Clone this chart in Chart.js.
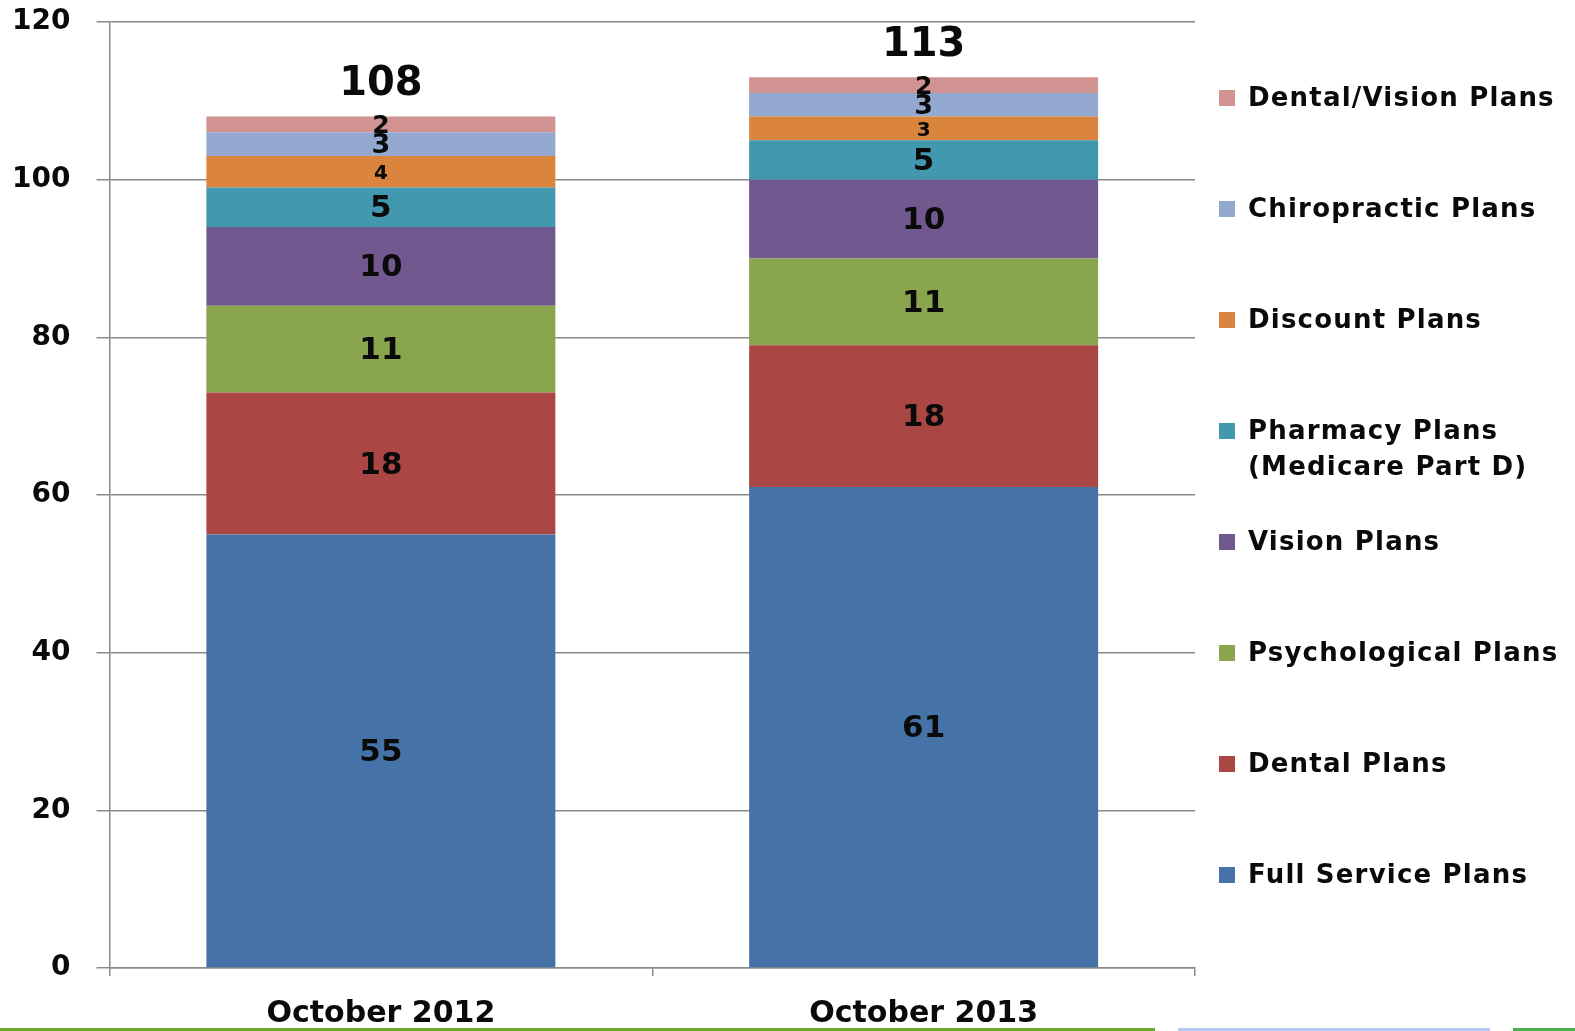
<!DOCTYPE html>
<html>
<head>
<meta charset="utf-8">
<script src="https://cdn.jsdelivr.net/npm/chart.js@4"></script>
<style>
    body { margin: 0; background: #fff; }
    #wrap { position: relative; width: 1575px; height: 1031px; overflow: hidden; }
    .strip { position: absolute; height: 3px; top: 1028px; }
</style>
</head>
<body>
<div id="wrap">
    <canvas id="plansChart" width="1575" height="1031"></canvas>
    <div class="strip" style="left:0;width:1155px;background:#6aab2e"></div>
    <div class="strip" style="left:1178px;width:312px;background:#b3c8ef"></div>
    <div class="strip" style="left:1513px;width:62px;background:#4caf50"></div>
</div>
<script>
// =========================
// DATA
// =========================
const months = ['October 2012', 'October 2013'];

const fullService  = [55, 61];
const dental       = [18, 18];
const psychological = [11, 11];
const vision       = [10, 10];
const pharmacy     = [5, 5];
const discount     = [4, 3];
const chiropractic = [3, 3];
const dentalVision = [2, 2];

const totals = [108, 113];

const yTicks = [0, 20, 40, 60, 80, 100, 120];

const seriesNames = [
    'Full Service Plans',
    'Dental Plans',
    'Psychological Plans',
    'Vision Plans',
    ['Pharmacy Plans', '(Medicare Part D)'],
    'Discount Plans',
    'Chiropractic Plans',
    'Dental/Vision Plans'
];
const seriesValues = [fullService, dental, psychological, vision, pharmacy, discount, chiropractic, dentalVision];
const seriesColors = ['#4572a7', '#aa4643', '#89a54e', '#71588f', '#4198af', '#db843d', '#93a9cf', '#d19392'];
const labelSizes   = [31, 31, 31, 31, 31, 20, 27, 25];

const FONT = '"DejaVu Sans", Verdana, sans-serif';

// =========================
// PLUGINS
// =========================
const segmentLabels = {
    id: 'segmentLabels',
    afterDatasetsDraw(chart) {
        const ctx = chart.ctx;
        ctx.save();
        ctx.fillStyle = '#0a0a0a';
        ctx.textAlign = 'center';
        ctx.textBaseline = 'middle';
        chart.data.datasets.forEach((ds, i) => {
            const meta = chart.getDatasetMeta(i);
            ctx.font = 'bold ' + labelSizes[i] + 'px ' + FONT;
            meta.data.forEach((bar, j) => {
                const p = bar.getCenterPoint();
                ctx.fillText(String(ds.data[j]), p.x, p.y + 2);
            });
        });
        // totals on top
        const top = chart.getDatasetMeta(chart.data.datasets.length - 1);
        ctx.font = 'bold 40px ' + FONT;
        top.data.forEach((bar, j) => {
            ctx.fillText(String(totals[j]), bar.x, bar.y - 32);
        });
        ctx.restore();
    }
};

const sideLegend = {
    id: 'sideLegend',
    afterDraw(chart) {
        const ctx = chart.ctx;
        const x0 = 1219, tx = 1248, y0 = 98, step = 111, box = 16;
        ctx.save();
        ctx.font = 'bold 26px ' + FONT;
        if ('letterSpacing' in ctx) ctx.letterSpacing = '1.2px';
        ctx.textAlign = 'left';
        ctx.textBaseline = 'middle';
        for (let k = 0; k < seriesNames.length; k++) {
            const i = seriesNames.length - 1 - k;
            const y = y0 + k * step;
            ctx.fillStyle = seriesColors[i];
            ctx.fillRect(x0, y - box / 2, box, box);
            ctx.fillStyle = '#0a0a0a';
            const lines = Array.isArray(seriesNames[i]) ? seriesNames[i] : [seriesNames[i]];
            lines.forEach((line, n) => ctx.fillText(line, tx, y + 1 + n * 36));
        }
        ctx.restore();
    }
};

// =========================
// CHART
// =========================
const ctx = document.getElementById('plansChart').getContext('2d');

new Chart(ctx, {
    type: 'bar',
    data: {
        labels: months,
        datasets: seriesValues.map((vals, i) => ({
            label: Array.isArray(seriesNames[i]) ? seriesNames[i].join(' ') : seriesNames[i],
            data: vals,
            backgroundColor: seriesColors[i],
            borderWidth: 0,
            barPercentage: 0.643,
            categoryPercentage: 1
        }))
    },
    options: {
        responsive: false,
        animation: false,
        layout: { padding: { top: 22, right: 380, left: 0, bottom: 0 } },
        plugins: {
            legend: { display: false },
            tooltip: { enabled: false }
        },
        scales: {
            x: {
                stacked: true,
                afterFit: s => { s.height = 63; s.paddingLeft = 0; s.paddingRight = 0; },
                grid: {
                    offset: true,
                    drawOnChartArea: false,
                    tickLength: 8,
                    color: '#8a8a8a',
                    lineWidth: 1.5
                },
                border: { color: '#8a8a8a', width: 1.5 },
                ticks: {
                    color: '#0a0a0a',
                    padding: 20,
                    font: { family: FONT, size: 30, weight: 'bold' }
                }
            },
            y: {
                stacked: true,
                min: 0,
                max: 120,
                afterFit: s => { s.width = 109.5; s.paddingTop = 0; s.paddingBottom = 0; },
                afterBuildTicks: s => { s.ticks = yTicks.map(v => ({ value: v })); },
                grid: {
                    color: '#8a8a8a',
                    lineWidth: 1.5,
                    tickLength: 13
                },
                border: { color: '#8a8a8a', width: 1.5 },
                ticks: {
                    color: '#0a0a0a',
                    padding: 26,
                    font: { family: FONT, size: 28, weight: 'bold' }
                }
            }
        }
    },
    plugins: [segmentLabels, sideLegend]
});
</script>
</body>
</html>
